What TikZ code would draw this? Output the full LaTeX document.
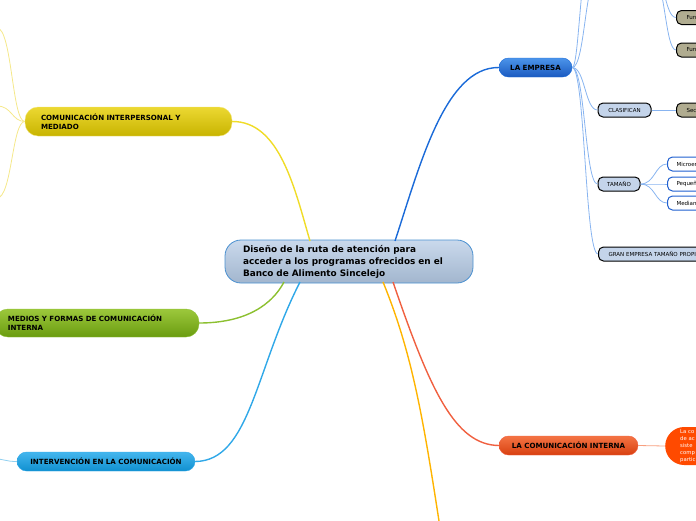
\documentclass[tikz,border=0pt]{standalone}
\usepackage{fontspec}
\setmainfont{DejaVu Sans}
\usetikzlibrary{positioning}
\definecolor{cborder}{HTML}{4A90D0}
\definecolor{ctop}{HTML}{CAD9EC}
\definecolor{cbot}{HTML}{A2B6CE}
\definecolor{bluetop}{HTML}{4C94EA}
\definecolor{bluebot}{HTML}{1A5AC0}
\definecolor{bluemain}{HTML}{1A6AD8}
\definecolor{bluethin}{HTML}{88B4F0}
\definecolor{yeltop}{HTML}{ECD832}
\definecolor{yelbot}{HTML}{C8B400}
\definecolor{yelmain}{HTML}{F0DC28}
\definecolor{yelthin}{HTML}{F5E88A}
\definecolor{grntop}{HTML}{9CC83C}
\definecolor{grnbot}{HTML}{6A9C10}
\definecolor{grnmain}{HTML}{8CC030}
\definecolor{cyantop}{HTML}{44B6EE}
\definecolor{cyanbot}{HTML}{1090D0}
\definecolor{cyanmain}{HTML}{30A8E8}
\definecolor{cyanthin}{HTML}{90D0F0}
\definecolor{redtop}{HTML}{F47444}
\definecolor{redbot}{HTML}{D84010}
\definecolor{redmain}{HTML}{F06040}
\definecolor{redthin}{HTML}{F8A080}
\definecolor{goldmain}{HTML}{FFB400}
\definecolor{bubble}{HTML}{FF4A00}
\definecolor{subfill}{HTML}{C4D4EA}
\definecolor{khaki}{HTML}{B0AC90}
\definecolor{leafblue}{HTML}{2060D0}

\begin{document}
\begin{tikzpicture}[x=1pt,y=-1pt,
  branch/.style={rounded corners=9.5pt,inner sep=0pt,minimum height=19pt,
    font=\fontsize{7.1}{8.8}\selectfont\bfseries},
  subnode/.style={rounded corners=5pt,draw=black,line width=1pt,fill=subfill,
    inner sep=0pt,minimum height=14pt,font=\fontsize{5.5}{6.5}\selectfont},
  leaf/.style={rounded corners=5pt,line width=1pt,inner ysep=0pt,inner xsep=10pt,
    minimum height=14pt,anchor=west,align=left,font=\fontsize{5.5}{6.5}\selectfont},
  thin/.style={line width=0.8pt},
  main/.style={line width=1.4pt}]
  \useasboundingbox (0,0) rectangle (696,520);
  \clip (0,0) rectangle (696,520);

  % central topic
  \node[rounded corners=16pt,draw=cborder,line width=0.8pt,top color=ctop,bottom color=cbot,
    text width=212pt,align=left,inner xsep=18pt,minimum height=43pt,
    font=\fontsize{8.9}{12}\selectfont\bfseries] (center) at (349,261.5)
    {Diseño de la ruta de atención para\\acceder a los programas ofrecidos en el\\Banco de Alimento Sincelejo};

  % main branches
  \node[branch,draw=bluemain,top color=bluetop,bottom color=bluebot,minimum width=73pt] (empresa) at (535.5,67.5) {LA EMPRESA};
  \node[branch,rounded corners=13pt,draw=yeltop!70!white,top color=yeltop,bottom color=yelbot,
    text width=175pt,align=left,inner xsep=16pt,minimum height=29pt] (interp) at (128.5,121.5)
    {COMUNICACIÓN INTERPERSONAL Y\\MEDIADO};
  \node[branch,rounded corners=13pt,draw=grnmain,top color=grntop,bottom color=grnbot,
    text width=178pt,align=left,inner xsep=13pt,minimum height=28pt] (medios) at (97,323)
    {MEDIOS Y FORMAS DE COMUNICACIÓN\\INTERNA};
  \node[branch,draw=cyanmain,top color=cyantop,bottom color=cyanbot,minimum width=178pt] (interv) at (106,461.5) {INTERVENCIÓN EN LA COMUNICACIÓN};
  \node[branch,draw=redmain,top color=redtop,bottom color=redbot,minimum width=139pt] (cominterna) at (568.5,445.5) {LA COMUNICACIÓN INTERNA};
  \node[rounded corners=19pt,fill=bubble,anchor=west,minimum height=38pt,text width=45pt,
    inner xsep=15pt,inner ysep=0pt,align=left,text=white,font=\fontsize{5.3}{7}\selectfont] (nota) at (665,446)
    {La co\\de ac\\siste\\comp\\partic};

  % la empresa subtree
  \node[subnode,minimum width=53pt] (clasif) at (624.5,110) {CLASIFICAN};
  \node[subnode,minimum width=42pt] (tamano) at (619,184) {TAMAÑO};
  \node[leaf,draw=black,fill=subfill,text width=100pt] (gran) at (598,254) {GRAN EMPRESA TAMAÑO PROPI};
  \node[leaf,draw=black,fill=khaki,text width=30pt] (sec) at (676,110) {Sec};
  \node[leaf,draw=black,fill=khaki,text width=30pt] (fun1) at (676,17.5) {Fun};
  \node[leaf,draw=black,fill=khaki,text width=30pt] (fun2) at (676,50) {Fun};
  \node[leaf,draw=leafblue,fill=white,inner xsep=9pt,text width=40pt] (micro) at (667,164) {Microem};
  \node[leaf,draw=leafblue,fill=white,inner xsep=9pt,text width=40pt] (peque) at (667,184) {Pequeñ};
  \node[leaf,draw=leafblue,fill=white,inner xsep=9pt,text width=40pt] (media) at (667,203) {Median};

  % parents and children beyond the edge
  \coordinate (funpar) at (652,-25);
  \coordinate (upa) at (598,-25);
  \coordinate (upb) at (598,-70);
  \coordinate (lefta) at (-3,28);
  \coordinate (leftb) at (-3,106);
  \coordinate (leftc) at (-3,198);
  \coordinate (leftd) at (-5,459);
  \coordinate (goldend) at (445,560);

  % main connectors
  \draw[main,bluemain] (395,241) .. controls (420,165) and (445,67) .. (empresa.west);
  \draw[main,yelmain] (310,241) .. controls (295,190) and (280,121) .. (interp.east);
  \draw[main,grnmain] (284,282) .. controls (268,312) and (235,323) .. (medios.east);
  \draw[main,cyanmain] (300,282) .. controls (255,370) and (250,461) .. (interv.east);
  \draw[main,redmain] (393,282) .. controls (430,390) and (455,445) .. (cominterna.west);
  \draw[main,goldmain] (383,282) .. controls (415,360) and (425,430) .. (goldend);

  % sub connectors
  \foreach \c in {clasif,tamano,gran}
    \draw[thin,bluethin] (empresa.east) .. controls (585,67.5) and (585,0 |- \c.west) .. (\c.west);
  \draw[thin,bluethin] (empresa.east) .. controls (585,67.5) and (585,-25) .. (upa);
  \draw[thin,bluethin] (empresa.east) .. controls (580,67.5) and (580,-70) .. (upb);
  \draw[thin,bluethin] (clasif.east) -- (sec.west);
  \foreach \c in {fun1,fun2}
    \draw[thin,bluethin] (funpar) .. controls (665,-25) and (665,0 |- \c.west) .. (\c.west);
  \foreach \c in {micro,peque,media}
    \draw[thin,bluethin] (tamano.east) .. controls (655,184) and (655,0 |- \c.west) .. (\c.west);
  \foreach \c in {lefta,leftb,leftc}
    \draw[thin,yelthin] (interp.west) .. controls (12,121.5) and (12,0 |- \c) .. (\c);
  \draw[thin,cyanthin] (interv.west) .. controls (5,461.5) and (5,459) .. (leftd);
  \draw[thin,redthin] (cominterna.east) -- (nota.west);
\end{tikzpicture}
\end{document}
